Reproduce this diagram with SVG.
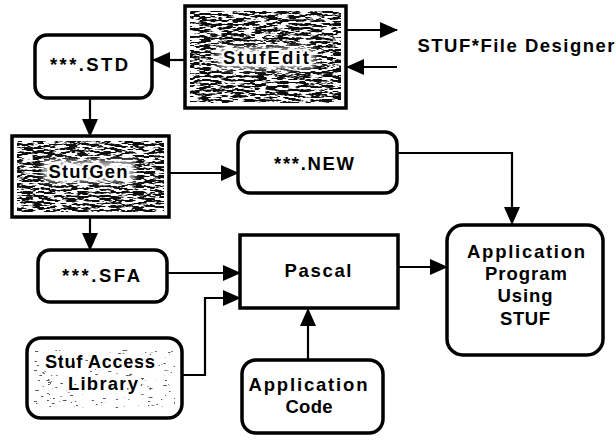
<svg xmlns="http://www.w3.org/2000/svg" width="616" height="440" viewBox="0 0 616 440">
  <defs>
    <style>
      .box { fill: #fff; stroke: #000; stroke-width: 3.5; }
      .lbl { font-family: "Liberation Sans", Arial, sans-serif; font-weight: bold; font-size: 18.5px; fill: #000; text-anchor: middle; }
      .halo { paint-order: stroke; stroke: #fff; stroke-width: 5; stroke-linejoin: round; }
      .wire { fill: none; stroke: #000; stroke-width: 2.2; marker-end: url(#arrow); }
    </style>
    <marker id="arrow" markerUnits="userSpaceOnUse" markerWidth="18" markerHeight="16" viewBox="0 0 18 16" refX="17" refY="8" orient="auto">
      <path d="M0,0 L18,8 L0,16 Z" fill="#000"/>
    </marker>
    <!-- streaky halftone used for the tool boxes -->
    <filter id="grain" x="0" y="0" width="1" height="1" color-interpolation-filters="sRGB">
      <feTurbulence type="fractalNoise" baseFrequency="0.09 0.5" numOctaves="3" seed="7"/>
      <feColorMatrix type="matrix" values="0 0 0 0 0.05  0 0 0 0 0.05  0 0 0 0 0.05  -13 0 0 0 7.1"/>
    </filter>
    <!-- sparse speckle for the library box -->
    <filter id="speck" x="0" y="0" width="1" height="1" color-interpolation-filters="sRGB">
      <feTurbulence type="fractalNoise" baseFrequency="0.15 0.6" numOctaves="2" seed="4"/>
      <feColorMatrix type="matrix" values="0 0 0 0 0.2  0 0 0 0 0.2  0 0 0 0 0.2  -24 0 0 0 7.4"/>
    </filter>
    <!-- soft light band behind tool labels -->
    <filter id="soft" x="-20%" y="-50%" width="140%" height="200%">
      <feGaussianBlur stdDeviation="3"/>
    </filter>
  </defs>

  <rect width="616" height="440" fill="#fff"/>

  <g id="connectors">
    <line class="wire" x1="347" y1="30" x2="397" y2="30"/>
    <line class="wire" x1="397" y1="67" x2="347" y2="67"/>
    <line class="wire" x1="185" y1="60" x2="153" y2="60"/>
    <line class="wire" x1="90" y1="98" x2="90" y2="136"/>
    <line class="wire" x1="170" y1="173" x2="238" y2="173"/>
    <polyline class="wire" points="397,153 512,153 512,224"/>
    <line class="wire" x1="90" y1="218" x2="90" y2="250"/>
    <line class="wire" x1="167" y1="273" x2="240" y2="273"/>
    <polyline class="wire" points="182,375 205,375 205,298 240,298"/>
    <line class="wire" x1="308" y1="360" x2="308" y2="309"/>
    <line class="wire" x1="398" y1="267" x2="447" y2="267"/>
  </g>

  <g id="stufedit">
    <rect class="box" x="185" y="6" width="161" height="102"/>
    <rect x="190" y="11" width="151" height="92" fill="#000" filter="url(#grain)"/>
    <rect x="218" y="48" width="96" height="20" fill="#fff" opacity="0.75" filter="url(#soft)"/>
    <text class="lbl halo" x="266" y="64" textLength="86" lengthAdjust="spacing">StufEdit</text>
  </g>

  <g id="designer">
    <text class="lbl" x="516" y="52" textLength="197" lengthAdjust="spacing">STUF*File Designer</text>
  </g>

  <g id="std">
    <rect class="box" x="35" y="35" width="117" height="63" rx="12"/>
    <text class="lbl" x="89" y="71" textLength="78" lengthAdjust="spacing">***.STD</text>
  </g>

  <g id="stufgen">
    <rect class="box" x="12" y="136" width="157" height="81"/>
    <rect x="17" y="141" width="147" height="71" fill="#000" filter="url(#grain)"/>
    <rect x="44" y="161" width="90" height="20" fill="#fff" opacity="0.75" filter="url(#soft)"/>
    <text class="lbl halo" x="88" y="178" textLength="79" lengthAdjust="spacing">StufGen</text>
  </g>

  <g id="new">
    <rect class="box" x="238" y="132" width="159" height="61" rx="12"/>
    <text class="lbl" x="314" y="170" textLength="80" lengthAdjust="spacing">***.NEW</text>
  </g>

  <g id="sfa">
    <rect class="box" x="38" y="250" width="129" height="52" rx="12"/>
    <text class="lbl" x="101" y="282" textLength="78" lengthAdjust="spacing">***.SFA</text>
  </g>

  <g id="pascal">
    <rect class="box" x="240" y="235" width="158" height="73"/>
    <text class="lbl" x="318" y="277" textLength="67" lengthAdjust="spacing">Pascal</text>
  </g>

  <g id="library">
    <rect class="box" x="27" y="338" width="155" height="80" rx="14"/>
    <rect x="34" y="350" width="141" height="58" fill="#000" filter="url(#speck)" opacity="0.8"/>
    <text class="lbl halo" x="100" y="368" textLength="110" lengthAdjust="spacing">Stuf Access</text>
    <text class="lbl halo" x="103" y="390" textLength="70" lengthAdjust="spacing">Library</text>
  </g>

  <g id="appcode">
    <rect class="box" x="242" y="360" width="141" height="73" rx="14"/>
    <text class="lbl" x="308" y="391" textLength="119" lengthAdjust="spacing">Application</text>
    <text class="lbl" x="309" y="413" textLength="47" lengthAdjust="spacing">Code</text>
  </g>

  <g id="appprogram">
    <rect class="box" x="447" y="225" width="156" height="130" rx="16"/>
    <text class="lbl" x="526" y="258" textLength="118" lengthAdjust="spacing">Application</text>
    <text class="lbl" x="526" y="280" textLength="82" lengthAdjust="spacing">Program</text>
    <text class="lbl" x="525" y="302" textLength="55" lengthAdjust="spacing">Using</text>
    <text class="lbl" x="525" y="325" textLength="50" lengthAdjust="spacing">STUF</text>
  </g>
</svg>
